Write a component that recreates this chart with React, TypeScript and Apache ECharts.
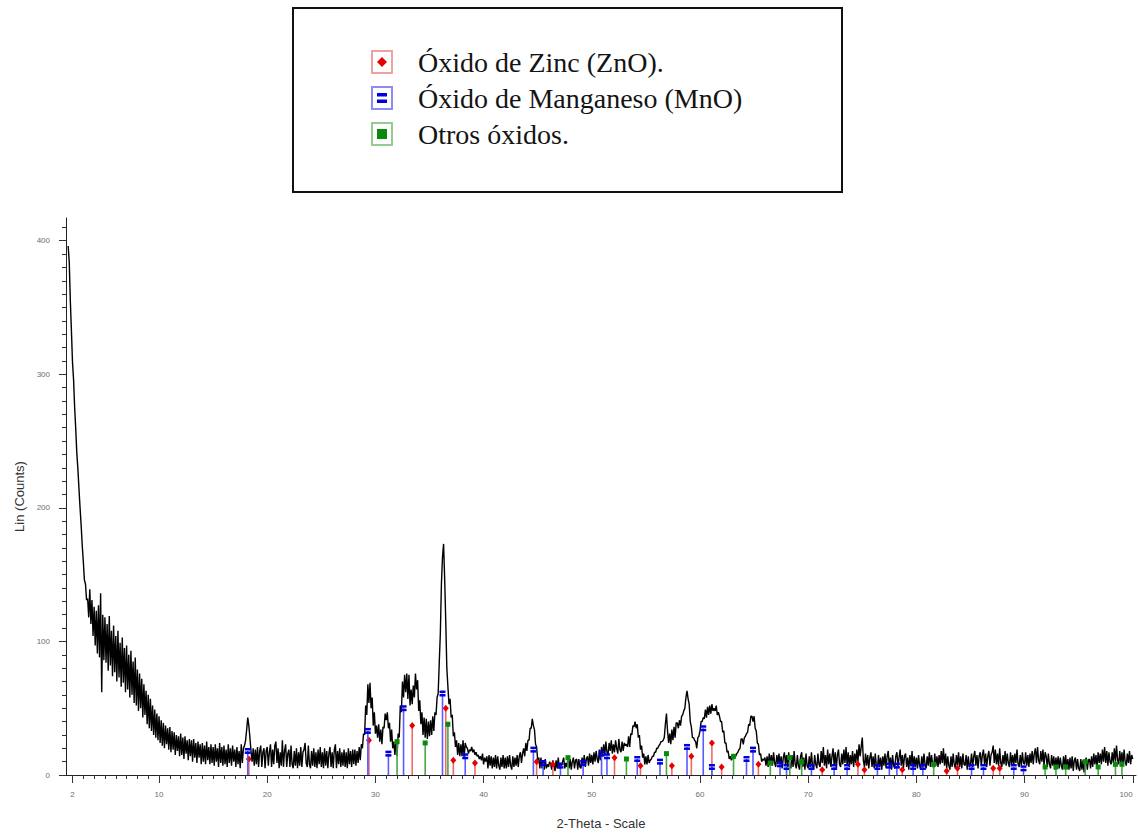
import React, { useEffect, useRef } from "react";
import * as echarts from "echarts";

// Scan parameters (2-Theta, degrees)
const scanStep = 0.1;
const lowStart = 1.6;
const midStart = 28.0;
const highStart = 68.0;

// Measured counts, 1.6° – 27.9°
const countsLow = [
  396, 384, 355, 333,
  309, 296, 275, 259, 241, 229, 214, 200, 187, 172,
  160, 146, 143, 131, 132, 118, 139, 113, 131, 104,
  126, 97, 123, 91, 127, 88, 136, 62, 120, 86,
  118, 84, 113, 78, 119, 82, 108, 74, 112, 77,
  104, 70, 108, 73, 99, 66, 103, 69, 95, 62,
  97, 64, 90, 58, 93, 60, 85, 54, 88, 52,
  79, 48, 76, 50, 72, 43, 68, 45, 63, 38,
  60, 35, 57, 33, 52, 30, 49, 28, 46, 26,
  44, 24, 41, 22, 39, 20, 37, 23, 35, 19,
  36, 17, 33, 19, 32, 15, 30, 18, 29, 14,
  31, 15, 28, 12, 29, 16, 26, 11, 27, 14,
  26, 10, 27, 13, 24, 9, 25, 13, 23, 8,
  24, 10, 22, 8, 25, 11, 21, 8, 23, 9,
  21, 7, 23, 10, 20, 6, 24, 9, 21, 7,
  22, 8, 19, 6, 23, 9, 20, 7, 22, 10,
  19, 6, 21, 8, 18, 5, 23, 9, 20, 22,
  26, 34, 43, 37, 28, 18, 10, 20, 7, 19,
  8, 21, 6, 18, 22, 6, 17, 20, 5, 18,
  21, 7, 17, 23, 6, 19, 8, 22, 25, 9,
  20, 5, 17, 7, 26, 6, 18, 23, 6, 16,
  19, 6, 22, 8, 5, 18, 7, 20, 5, 17,
  7, 21, 6, 17, 19, 24, 9, 6, 22, 8,
  5, 18, 7, 20, 6, 17, 5, 19, 8, 21,
  6, 17, 5, 20, 7, 18, 5, 16, 21, 6,
  17, 5, 19, 23, 5, 18, 8, 20, 6, 17,
  7, 19, 6, 17, 5, 20, 8, 18, 6, 19,
];

// Measured counts, 28.0° – 67.9°
const countsMid = [
  8, 19, 7, 18, 9, 21, 11, 23, 20, 31,
  30, 52, 45, 68, 54, 69, 50, 58, 37, 47,
  31, 37, 28, 38, 25, 34, 23, 36, 35, 46,
  41, 47, 35, 39, 25, 34, 20, 25, 15, 26,
  14, 31, 28, 52, 47, 70, 58, 75, 62, 76,
  57, 75, 52, 64, 53, 67, 58, 76, 64, 71,
  48, 56, 38, 47, 30, 43, 28, 42, 27, 40,
  29, 41, 30, 44, 33, 47, 45, 58, 61, 84,
  106, 143, 163, 173, 147, 115, 80, 66, 53, 57,
  43, 45, 29, 32, 21, 26, 15, 24, 14, 23,
  14, 26, 13, 24, 21, 20, 16, 19, 18, 21,
  17, 19, 15, 17, 14, 15, 12, 14, 11, 16,
  8, 13, 10, 14, 5, 15, 7, 14, 5, 13,
  6, 15, 5, 14, 7, 4, 13, 6, 15, 5,
  13, 5, 14, 6, 15, 7, 4, 14, 6, 13,
  7, 15, 6, 14, 17, 9, 16, 20, 14, 24,
  18, 26, 26, 35, 35, 42, 37, 34, 23, 21,
  11, 13, 5, 13, 5, 11, 4, 12, 5, 8,
  6, 10, 8, 4, 11, 7, 3, 11, 5, 13,
  5, 9, 7, 10, 13, 5, 9, 6, 13, 5,
  12, 4, 10, 13, 5, 11, 12, 4, 12, 6,
  5, 13, 7, 15, 6, 12, 14, 7, 16, 9,
  15, 8, 17, 10, 18, 12, 9, 19, 11, 21,
  14, 23, 15, 25, 17, 15, 24, 18, 26, 16,
  23, 17, 26, 20, 16, 27, 19, 17, 25, 18,
  24, 22, 23, 21, 29, 21, 31, 30, 37, 36,
  40, 35, 38, 28, 30, 19, 22, 13, 16, 8,
  14, 8, 15, 9, 11, 12, 14, 14, 17, 17,
  20, 20, 22, 23, 25, 25, 26, 28, 38, 46,
  33, 24, 31, 23, 34, 26, 36, 28, 39, 39,
  35, 41, 37, 44, 45, 48, 50, 58, 63, 57,
  53, 40, 36, 28, 28, 26, 25, 20, 28, 29,
  33, 40, 40, 43, 42, 49, 43, 51, 45, 52,
  46, 53, 48, 50, 48, 52, 45, 47, 44, 40,
  40, 32, 33, 24, 24, 17, 18, 12, 14, 11,
  13, 12, 14, 14, 16, 17, 19, 20, 27, 27,
  23, 28, 29, 31, 32, 38, 37, 44, 44, 40,
  44, 35, 33, 24, 23, 15, 16, 10, 12, 11,
  13, 7, 14, 6, 16, 8, 15, 7, 17, 9,
  6, 15, 8, 16, 7, 14, 5, 13, 17, 8,
];

// Measured counts, 68.0° – 100.0°
const countsHigh = [
  15, 6, 17, 7, 5, 15, 6, 18, 8, 5,
  15, 7, 4, 14, 17, 6, 13, 4, 16, 7,
  5, 14, 6, 17, 7, 4, 15, 8, 5, 16,
  8, 6, 18, 9, 21, 7, 15, 5, 19, 8,
  16, 6, 14, 20, 7, 17, 5, 15, 19, 8,
  6, 16, 8, 19, 9, 21, 7, 17, 6, 15,
  8, 18, 6, 16, 9, 19, 10, 23, 14, 21,
  28, 11, 6, 16, 7, 15, 5, 13, 17, 6,
  14, 5, 16, 7, 4, 15, 6, 13, 4, 14,
  7, 16, 5, 14, 18, 6, 13, 4, 15, 7,
  5, 14, 17, 6, 13, 19, 7, 15, 5, 14,
  16, 6, 13, 4, 15, 7, 18, 5, 14, 6,
  13, 5, 15, 7, 4, 14, 6, 16, 8, 5,
  14, 7, 17, 6, 15, 8, 5, 16, 7, 14,
  6, 15, 8, 18, 9, 20, 7, 16, 5, 14,
  7, 4, 14, 6, 16, 8, 5, 15, 7, 17,
  6, 14, 5, 16, 8, 7, 15, 4, 14, 6,
  8, 16, 6, 14, 18, 7, 15, 5, 14, 17,
  7, 15, 19, 8, 16, 6, 14, 18, 7, 15,
  17, 22, 9, 19, 8, 16, 7, 20, 9, 6,
  15, 8, 18, 7, 16, 9, 6, 17, 8, 15,
  7, 16, 9, 19, 8, 6, 15, 7, 17, 9,
  8, 17, 7, 15, 6, 16, 9, 18, 8, 16,
  20, 9, 21, 11, 8, 18, 10, 19, 7, 17,
  14, 6, 16, 8, 5, 15, 7, 14, 4, 13,
  6, 14, 5, 13, 7, 4, 14, 6, 15, 5,
  12, 4, 13, 5, 14, 3, 11, 13, 4, 12,
  5, 3, 12, 4, 11, 2, 10, 13, 4, 11,
  12, 5, 14, 6, 16, 8, 15, 6, 17, 9,
  16, 8, 19, 10, 21, 9, 18, 7, 17, 10,
  8, 17, 9, 20, 10, 22, 11, 8, 18, 9,
  17, 8, 19, 10, 7, 16, 9, 18, 8, 15,
  12,
];

// Reference patterns: [2-Theta, stick height]
const zincOxideSticks: [number, number][] = [
  [18.3, 12], [29.4, 26], [33.4, 37], [36.5, 50], [37.2, 11], [39.2, 9],
  [44.9, 10], [46.4, 8], [52.1, 13], [54.5, 7], [57.4, 7], [59.2, 14],
  [61.1, 24], [62.0, 6], [65.4, 8], [71.3, 4], [74.6, 8], [75.2, 4],
  [78.7, 4], [82.8, 3], [83.8, 5], [87.1, 5], [87.7, 5],
];
const manganeseOxideSticks: [number, number][] = [
  [18.2, 18], [29.3, 33], [31.2, 16], [32.6, 50], [36.2, 61], [38.3, 14],
  [44.6, 19], [45.5, 9], [47.1, 7], [49.2, 9], [50.9, 16], [51.4, 14],
  [54.2, 12], [56.3, 10], [58.8, 21], [60.3, 35], [61.1, 6], [64.3, 12],
  [64.9, 19], [67.4, 8], [68.0, 6], [70.3, 6], [72.4, 6], [73.6, 6],
  [76.4, 6], [77.5, 7], [78.2, 7], [79.7, 6], [80.6, 6], [85.1, 6],
  [86.2, 6], [89.0, 6], [89.9, 5],
];
const otherOxideSticks: [number, number][] = [
  [32.0, 25], [34.6, 24], [36.7, 38], [47.8, 13], [53.2, 12], [56.9, 16],
  [63.1, 14], [66.5, 9], [68.3, 13], [69.4, 10], [81.6, 8], [91.9, 6],
  [92.9, 6], [93.8, 6], [95.6, 10], [96.8, 6], [98.4, 8], [99.0, 8],
];

const xTickValues = [2, 10, 20, 30, 40, 50, 60, 70, 80, 90, 100];
const yTickValues = [0, 100, 200, 300, 400];

const legendLabels = ["Óxido de Zinc (ZnO).", "Óxido de Manganeso (MnO)", "Otros óxidos."];

const X_MIN = 1.4;
const X_MAX = 100.3;
const Y_MAX = 417;

const GRID = { left: 66, right: 2, top: 218, bottom: 60, outerBoundsMode: "none" };

function toPoints(start: number, values: number[]) {
  return values.map((v, i) => [Math.round((start + i * scanStep) * 10) / 10, v]);
}

type Marker = "diamond" | "bars" | "square";

function stickSeries(name: string, data: [number, number][], stickColor: string, markColor: string, marker: Marker) {
  return {
    type: "custom",
    name,
    data,
    z: 4,
    encode: { x: 0, y: 1 },
    renderItem: (_params: any, api: any) => {
      const x = api.value(0);
      const h = api.value(1);
      const base = api.coord([x, 0]);
      const top = api.coord([x, h]);
      const children: any[] = [
        {
          type: "line",
          shape: { x1: base[0], y1: base[1], x2: top[0], y2: top[1] },
          style: { stroke: stickColor, lineWidth: 1.6 },
        },
      ];
      const cx = top[0];
      const cy = top[1];
      if (marker === "diamond") {
        children.push({
          type: "polygon",
          shape: { points: [[cx, cy - 3.5], [cx + 3, cy], [cx, cy + 3.5], [cx - 3, cy]] },
          style: { fill: markColor },
        });
      } else if (marker === "bars") {
        children.push({ type: "rect", shape: { x: cx - 3, y: cy - 3, width: 6, height: 2.5 }, style: { fill: markColor } });
        children.push({ type: "rect", shape: { x: cx - 3, y: cy + 0.5, width: 6, height: 2.5 }, style: { fill: markColor } });
      } else {
        children.push({ type: "rect", shape: { x: cx - 2.5, y: cy - 2.5, width: 5, height: 5 }, style: { fill: markColor } });
      }
      return { type: "group", children };
    },
  };
}

function legendGraphics() {
  const rows = [
    { cy: 62, box: "#f2a0a0", mark: "#e80000", kind: "diamond" },
    { cy: 98, box: "#8c8cf2", mark: "#0000dd", kind: "bars" },
    { cy: 134, box: "#94cc94", mark: "#0a8a0a", kind: "square" },
  ];
  const items: any[] = [
    {
      type: "rect",
      shape: { x: 293, y: 8, width: 549, height: 184 },
      style: { fill: "#ffffff", stroke: "#111111", lineWidth: 2 },
      z: 10,
    },
  ];
  rows.forEach((r, i) => {
    items.push({
      type: "rect",
      shape: { x: 372, y: r.cy - 11, width: 20, height: 22 },
      style: { fill: "#ffffff", stroke: r.box, lineWidth: 2 },
      z: 11,
    });
    if (r.kind === "diamond") {
      items.push({
        type: "polygon",
        shape: { points: [[382, r.cy - 5], [387, r.cy], [382, r.cy + 5], [377, r.cy]] },
        style: { fill: r.mark },
        z: 12,
      });
    } else if (r.kind === "bars") {
      items.push({ type: "rect", shape: { x: 377, y: r.cy - 5, width: 10, height: 3.5 }, style: { fill: r.mark }, z: 12 });
      items.push({ type: "rect", shape: { x: 377, y: r.cy + 1.5, width: 10, height: 3.5 }, style: { fill: r.mark }, z: 12 });
    } else {
      items.push({ type: "rect", shape: { x: 377, y: r.cy - 5, width: 10, height: 10 }, style: { fill: r.mark }, z: 12 });
    }
    items.push({
      type: "text",
      x: 418,
      y: r.cy,
      style: {
        text: legendLabels[i],
        fontSize: 28,
        fontFamily: "Liberation Serif",
        fill: "#141414",
        verticalAlign: "middle",
      },
      z: 12,
    });
  });
  return items;
}

export default function App() {
  const ref = useRef<HTMLDivElement>(null);

  useEffect(() => {
    if (!ref.current) return;
    const chart = echarts.init(ref.current, undefined, { renderer: "svg" });

    const pattern = [
      ...toPoints(lowStart, countsLow),
      ...toPoints(midStart, countsMid),
      ...toPoints(highStart, countsHigh),
    ];

    const minorX: number[] = [];
    for (let v = 3; v < 100; v++) if (v % 10 !== 0) minorX.push(v);
    const minorY: number[] = [];
    for (let v = 10; v <= 410; v += 10) if (v % 100 !== 0) minorY.push(v);

    const tickLabel = { fontSize: 8, color: "#6e6e6e", fontFamily: "Liberation Sans" };
    const nameStyle = { fontSize: 13, color: "#333333", fontFamily: "Liberation Sans" };

    chart.setOption({
      animation: false,
      backgroundColor: "#ffffff",
      grid: [{ ...GRID }, { ...GRID }],
      xAxis: [
        {
          type: "value",
          gridIndex: 0,
          min: X_MIN,
          max: X_MAX,
          name: "2-Theta - Scale",
          nameLocation: "middle",
          nameGap: 42,
          nameMoveOverlap: false,
          nameTextStyle: nameStyle,
          axisLine: { show: true, onZero: false, lineStyle: { color: "#222222", width: 1 } },
          axisTick: { show: true, customValues: xTickValues, length: 8, lineStyle: { color: "#333333" } },
          axisLabel: { ...tickLabel, customValues: xTickValues, margin: 15, alignMaxLabel: "right" },
          splitLine: { show: false },
        },
        {
          type: "value",
          gridIndex: 1,
          min: X_MIN,
          max: X_MAX,
          axisLine: { show: false, onZero: false },
          axisTick: { show: true, customValues: minorX, length: 4, lineStyle: { color: "#333333" } },
          axisLabel: { show: false },
          splitLine: { show: false },
        },
      ],
      yAxis: [
        {
          type: "value",
          gridIndex: 0,
          min: 0,
          max: Y_MAX,
          name: "Lin (Counts)",
          nameLocation: "middle",
          nameGap: 40,
          nameMoveOverlap: false,
          nameTextStyle: nameStyle,
          axisLine: { show: true, onZero: false, lineStyle: { color: "#222222", width: 1 } },
          axisTick: { show: true, customValues: yTickValues, length: 7, lineStyle: { color: "#333333" } },
          axisLabel: { ...tickLabel, customValues: yTickValues, margin: 16 },
          splitLine: { show: false },
        },
        {
          type: "value",
          gridIndex: 1,
          min: 0,
          max: Y_MAX,
          axisLine: { show: false, onZero: false },
          axisTick: { show: true, customValues: minorY, length: 4, lineStyle: { color: "#333333" } },
          axisLabel: { show: false },
          splitLine: { show: false },
        },
      ],
      series: [
        {
          type: "line",
          name: "Pattern",
          xAxisIndex: 0,
          yAxisIndex: 0,
          data: pattern,
          showSymbol: false,
          symbol: "none",
          lineStyle: { color: "#000000", width: 1.4 },
          z: 3,
        },
        stickSeries("Óxido de Zinc (ZnO)", zincOxideSticks, "#f06a6a", "#e80000", "diamond"),
        stickSeries("Óxido de Manganeso (MnO)", manganeseOxideSticks, "#5a5aff", "#0000dd", "bars"),
        stickSeries("Otros óxidos", otherOxideSticks, "#45a845", "#0a8a0a", "square"),
      ],
      graphic: legendGraphics(),
    });

    return () => chart.dispose();
  }, []);

  return (
    <div
      ref={ref}
      style={{ position: "absolute", left: 0, top: 0, width: 1138, height: 835, background: "#ffffff" }}
    />
  );
}
